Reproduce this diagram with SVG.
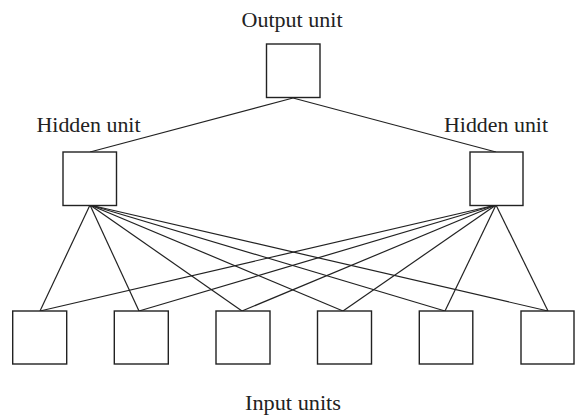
<svg xmlns="http://www.w3.org/2000/svg" width="575" height="417" viewBox="0 0 575 417">
<style>
.unit{fill:#fff;stroke:#222;stroke-width:1.4}
.edge{stroke:#222;stroke-width:1.2;fill:none}
.lbl{font-family:"Liberation Serif","Times New Roman",serif;font-size:20px;fill:#222}
</style>
<rect width="575" height="417" fill="#fff"/>
<g id="connectors">
<line class="edge" x1="293" y1="98" x2="90" y2="152"/>
<line class="edge" x1="293" y1="98" x2="496" y2="152"/>
<line class="edge" x1="90" y1="205" x2="40" y2="311"/>
<line class="edge" x1="90" y1="205" x2="139" y2="311"/>
<line class="edge" x1="90" y1="205" x2="242" y2="311"/>
<line class="edge" x1="90" y1="205" x2="343" y2="311"/>
<line class="edge" x1="90" y1="205" x2="445" y2="311"/>
<line class="edge" x1="90" y1="205" x2="548" y2="311"/>
<line class="edge" x1="496" y1="205" x2="40" y2="311"/>
<line class="edge" x1="496" y1="205" x2="139" y2="311"/>
<line class="edge" x1="496" y1="205" x2="242" y2="311"/>
<line class="edge" x1="496" y1="205" x2="343" y2="311"/>
<line class="edge" x1="496" y1="205" x2="445" y2="311"/>
<line class="edge" x1="496" y1="205" x2="548" y2="311"/>
</g>
<g id="output">
<text class="lbl" x="241.5" y="27" textLength="101" lengthAdjust="spacingAndGlyphs">Output unit</text>
<rect class="unit" x="266.5" y="44" width="53.5" height="53.5"/>
</g>
<g id="hidden-left">
<text class="lbl" x="36.5" y="132" textLength="104" lengthAdjust="spacingAndGlyphs">Hidden unit</text>
<rect class="unit" x="63" y="152" width="53.5" height="53.5"/>
</g>
<g id="hidden-right">
<text class="lbl" x="444" y="132" textLength="104" lengthAdjust="spacingAndGlyphs">Hidden unit</text>
<rect class="unit" x="470" y="152" width="53" height="53.5"/>
</g>
<g id="input-1"><rect class="unit" x="12.7" y="311" width="54" height="53"/></g>
<g id="input-2"><rect class="unit" x="114.3" y="311" width="54" height="53"/></g>
<g id="input-3"><rect class="unit" x="216" y="311" width="54" height="53"/></g>
<g id="input-4"><rect class="unit" x="317.5" y="311" width="54" height="53"/></g>
<g id="input-5"><rect class="unit" x="419.3" y="311" width="53.5" height="53"/></g>
<g id="input-6"><rect class="unit" x="521" y="311" width="53" height="53"/></g>
<g id="inputs-label">
<text class="lbl" x="245" y="410" textLength="96" lengthAdjust="spacingAndGlyphs">Input units</text>
</g>
</svg>
